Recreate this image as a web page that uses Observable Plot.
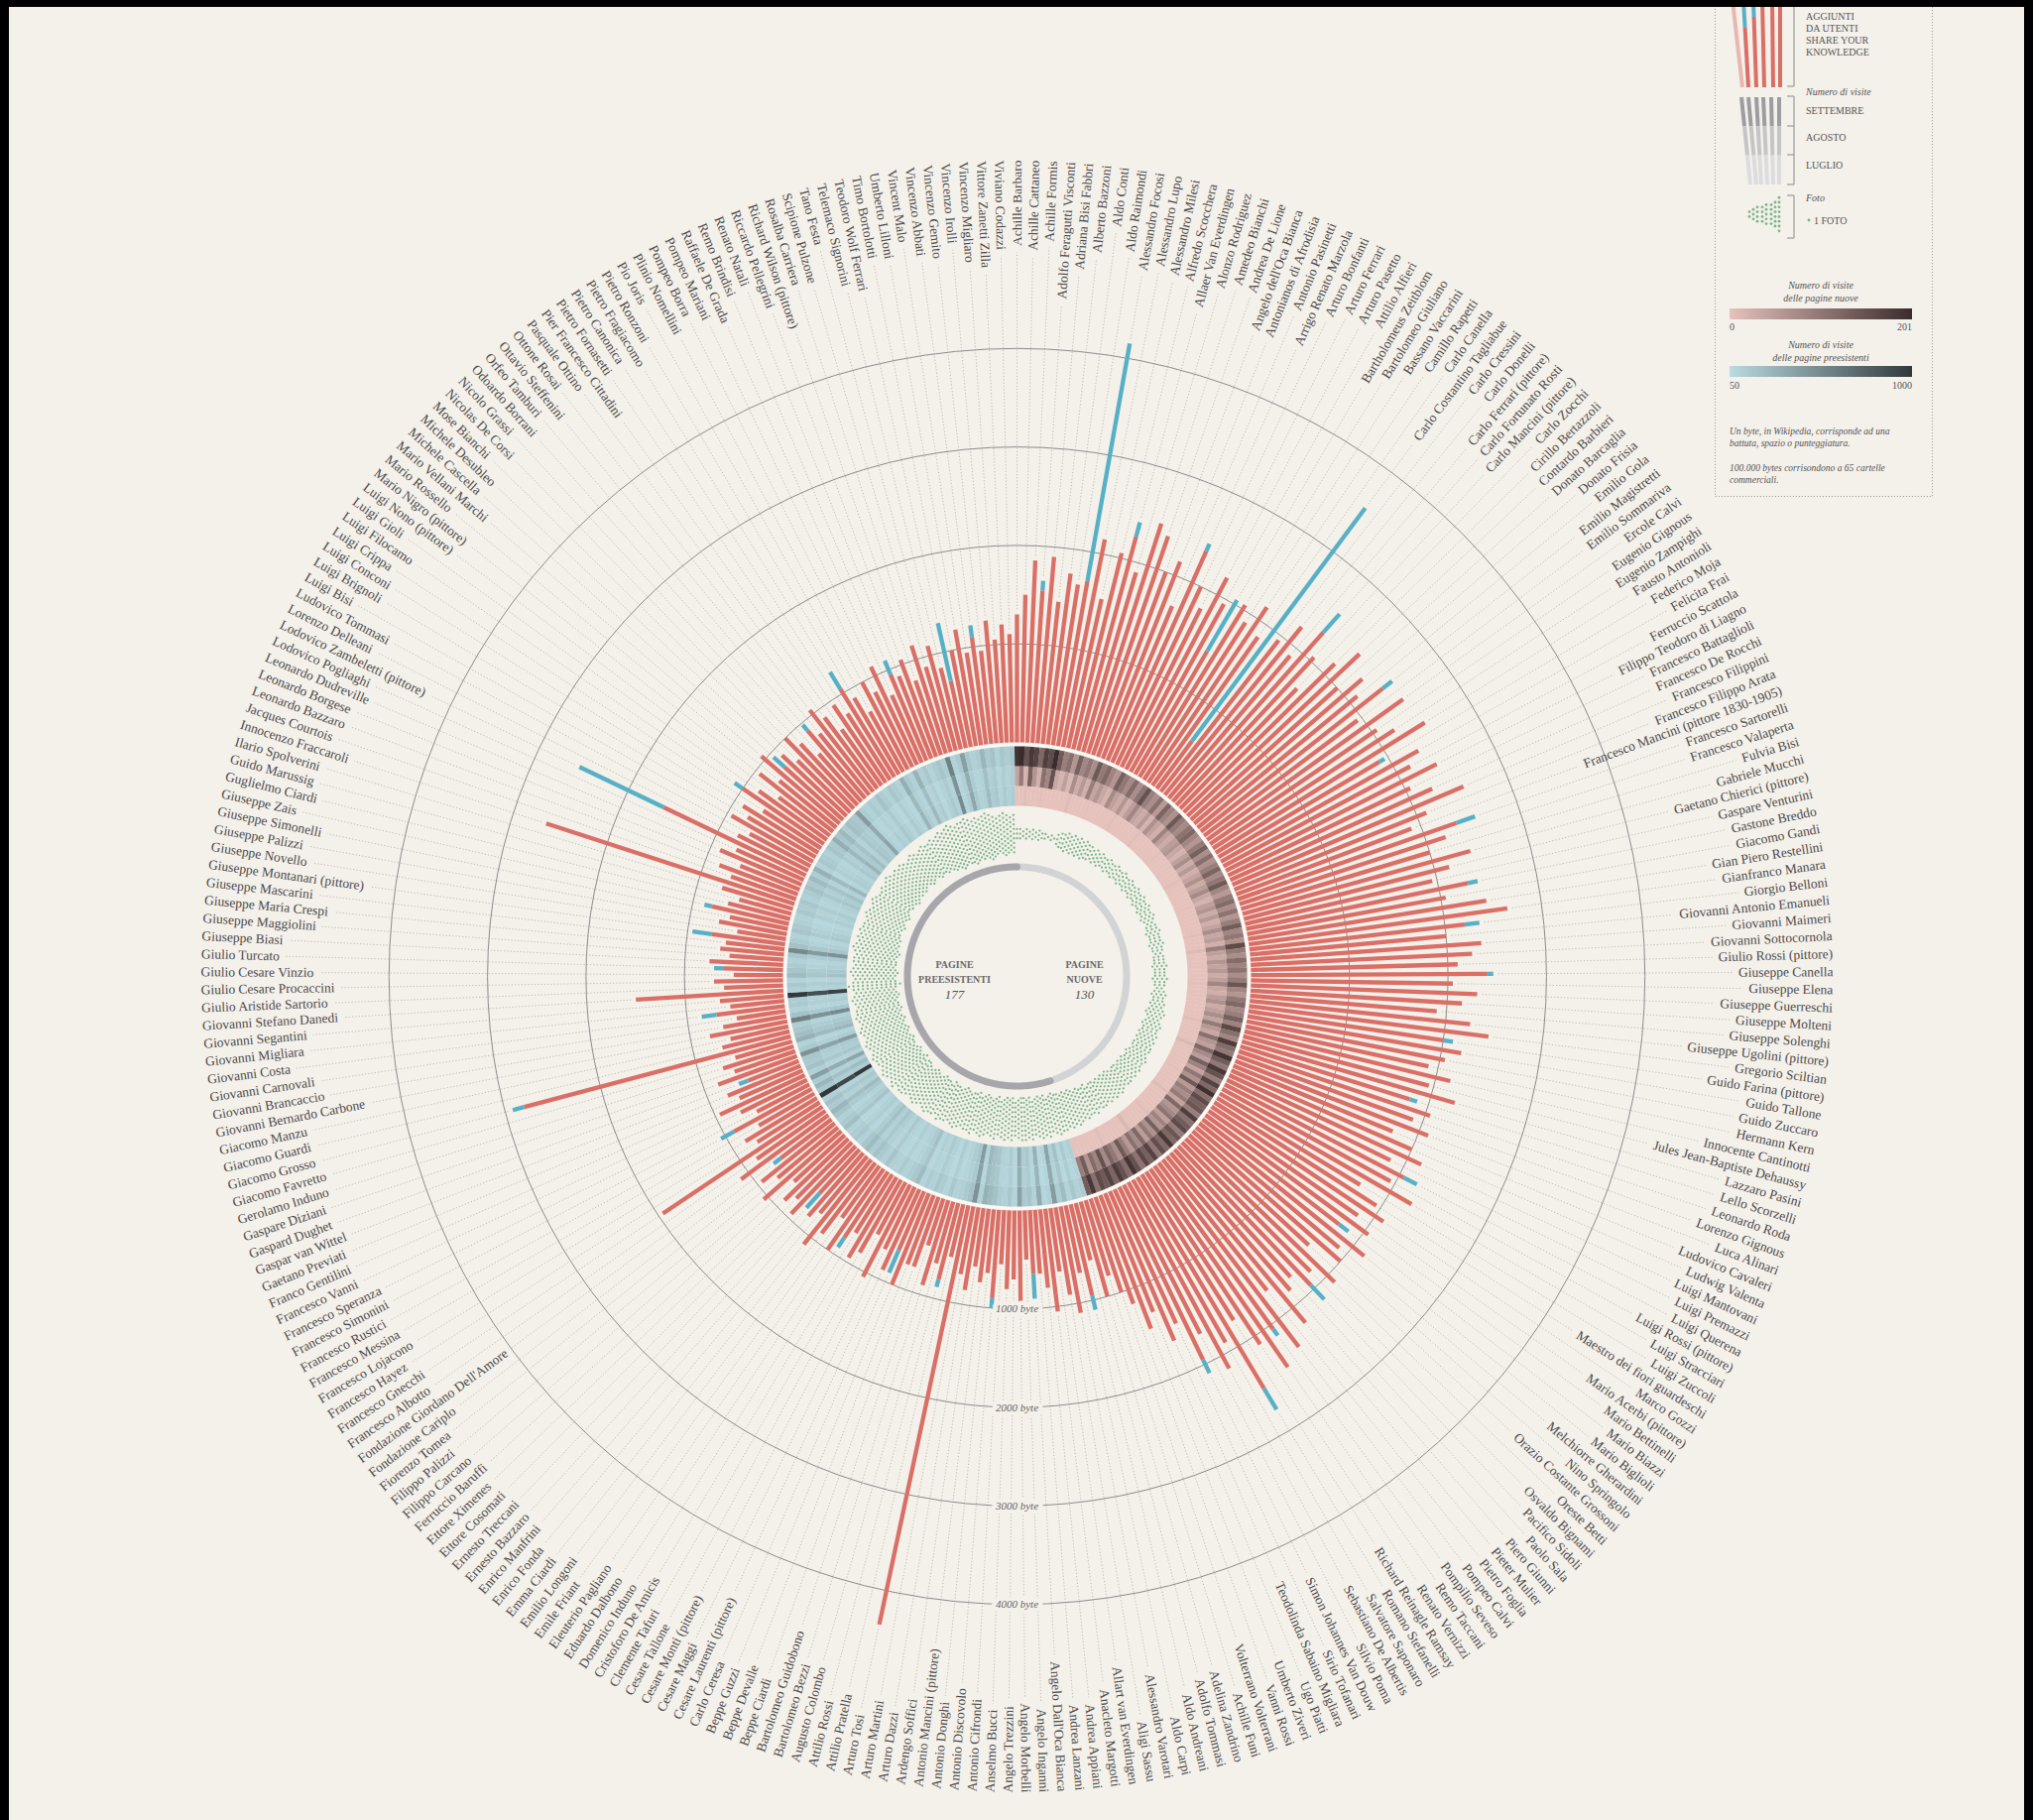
<!DOCTYPE html>
<html><head><meta charset="utf-8">
<script src="https://cdn.jsdelivr.net/npm/d3@7"></script>
<script src="https://cdn.jsdelivr.net/npm/@observablehq/plot@0.6"></script>
<style>
html,body{margin:0;padding:0;background:#f4f0ea;overflow:hidden;width:2050px;height:1835px;}
#chart{position:absolute;left:0;top:0;}
#legend{position:absolute;left:0;top:0;}
.bk{position:absolute;background:#000;z-index:10;}
</style></head>
<body>
<div id="chart"></div>
<svg id="legend" width="2050" height="520" font-family="'Liberation Serif', serif"></svg>
<div class="bk" style="left:0;top:0;width:2050px;height:7px"></div>
<div class="bk" style="left:0;top:0;width:9px;height:1835px"></div>
<div class="bk" style="left:2041px;top:0;width:9px;height:1835px"></div>
<script>
// ---------- DATA ----------
const newNames = ["Achille Barbaro","Achille Cattaneo","Achille Formis","Adolfo Feragutti Visconti","Adriana Bisi Fabbri","Alberto Bazzoni","Aldo Conti","Aldo Raimondi","Alessandro Focosi","Alessandro Lupo",
"Alessandro Milesi","Alfredo Scocchera","Allaer Van Everdingen","Alonzo Rodriguez","Amedeo Bianchi","Andrea De Lione","Angelo dell'Oca Bianca","Antonianos di Afrodisia","Antonio Pasinetti","Arrigo Renato Marzola",
"Arturo Bonfanti","Arturo Ferrari","Arturo Pasetto","Attilio Alfieri","Bartholomeus Zeitblom","Bartolomeo Giuliano","Bassano Vaccarini","Camillo Rapetti","Carlo Canella","Carlo Costantino Tagliabue",
"Carlo Cressini","Carlo Donelli","Carlo Ferrari (pittore)","Carlo Fortunato Rosti","Carlo Mancini (pittore)","Carlo Zocchi","Cirillo Bertazzoli","Contardo Barbieri","Donato Barcaglia","Donato Frisia",
"Emilio Gola","Emilio Magistretti","Emilio Sommariva","Ercole Calvi","Eugenio Gignous","Eugenio Zampighi","Fausto Antonioli","Federico Moja","Felicita Frai","Ferruccio Scattola",
"Filippo Teodoro di Liagno","Francesco Battaglioli","Francesco De Rocchi","Francesco Filippini","Francesco Filippo Arata","Francesco Mancini (pittore 1830-1905)","Francesco Sartorelli","Francesco Valaperta","Fulvia Bisi","Gabriele Mucchi",
"Gaetano Chierici (pittore)","Gaspare Venturini","Gastone Breddo","Giacomo Gandi","Gian Piero Restellini","Gianfranco Manara","Giorgio Belloni","Giovanni Antonio Emanueli","Giovanni Maimeri","Giovanni Sottocornola",
"Giulio Rossi (pittore)","Giuseppe Canella","Giuseppe Elena","Giuseppe Guerreschi","Giuseppe Molteni","Giuseppe Solenghi","Giuseppe Ugolini (pittore)","Gregorio Sciltian","Guido Farina (pittore)","Guido Tallone",
"Guido Zuccaro","Hermann Kern","Innocente Cantinotti","Jules Jean-Baptiste Dehaussy","Lazzaro Pasini","Lello Scorzelli","Leonardo Roda","Lorenzo Gignous","Luca Alinari","Ludovico Cavaleri",
"Ludwig Valenta","Luigi Mantovani","Luigi Premazzi","Luigi Querena","Luigi Rossi (pittore)","Luigi Stracciari","Luigi Zuccoli","Maestro dei fiori guardeschi","Marco Gozzi","Mario Acerbi (pittore)",
"Mario Bettinelli","Mario Biazzi","Mario Biglioli","Melchiorre Gherardini","Nino Springolo","Orazio Costante Grossoni","Oreste Betti","Osvaldo Bignami","Pacifico Sidoli","Paolo Sala",
"Piero Giunni","Pieter Mulier","Pietro Foglia","Pompeo Calvi","Pompilio Seveso","Remo Taccani","Renato Vernizzi","Richard Reinagle Ramsay","Romano Stefanelli","Salvatore Saponaro",
"Sebastiano De Albertis","Silvio Poma","Simon Johannes Van Douw","Sirio Tofanari","Teodolinda Sabaino Migliara","Ugo Piatti","Umberto Ziveri","Vanni Rossi","Volterrano Volterrani"];

const oldNames = ["Achille Funi","Adelina Zandrino","Adolfo Tommasi","Aldo Andreani","Aldo Carpi","Alessandro Varotari","Aligi Sassu","Allart van Everdingen","Anacleto Margotti","Andrea Appiani",
"Andrea Lanzani","Angelo Dall'Oca Bianca","Angelo Inganni","Angelo Morbelli","Angelo Trezzini","Anselmo Bucci","Antonio Cifrondi","Antonio Discovolo","Antonio Donghi","Antonio Mancini (pittore)",
"Ardengo Soffici","Arturo Dazzi","Arturo Martini","Arturo Tosi","Attilio Pratella","Attilio Rossi","Augusto Colombo","Bartolomeo Bezzi","Bartolomeo Guidobono","Beppe Ciardi",
"Beppe Devalle","Beppe Guzzi","Carlo Ceresa","Cesare Laurenti (pittore)","Cesare Maggi","Cesare Monti (pittore)","Cesare Tallone","Clemente Tafuri","Cristoforo De Amicis","Domenico Induno",
"Eduardo Dalbono","Eleuterio Pagliano","Emile Friant","Emilio Longoni","Emma Ciardi","Enrico Fonda","Enrico Manfrini","Ernesto Bazzaro","Ernesto Treccani","Ettore Cosomati",
"Ettore Ximenes","Ferruccio Baruffi","Filippo Carcano","Filippo Palizzi","Fiorenzo Tomea","Fondazione Cariplo","Fondazione Giordano Dell'Amore","Francesco Albotto","Francesco Gnecchi","Francesco Hayez",
"Francesco Lojacono","Francesco Messina","Francesco Rustici","Francesco Simonini","Francesco Speranza","Francesco Vanni","Franco Gentilini","Gaetano Previati","Gaspar van Wittel","Gaspard Dughet",
"Gaspare Diziani","Gerolamo Induno","Giacomo Favretto","Giacomo Grosso","Giacomo Guardi","Giacomo Manzu","Giovanni Bernardo Carbone","Giovanni Brancaccio","Giovanni Carnovali","Giovanni Costa",
"Giovanni Migliara","Giovanni Segantini","Giovanni Stefano Danedi","Giulio Aristide Sartorio","Giulio Cesare Procaccini","Giulio Cesare Vinzio","Giulio Turcato","Giuseppe Biasi","Giuseppe Maggiolini","Giuseppe Maria Crespi",
"Giuseppe Mascarini","Giuseppe Montanari (pittore)","Giuseppe Novello","Giuseppe Palizzi","Giuseppe Simonelli","Giuseppe Zais","Guglielmo Ciardi","Guido Marussig","Ilario Spolverini","Innocenzo Fraccaroli",
"Jacques Courtois","Leonardo Bazzaro","Leonardo Borgese","Leonardo Dudreville","Lodovico Pogliaghi","Lodovico Zambeletti (pittore)","Lorenzo Delleani","Ludovico Tommasi","Luigi Bisi","Luigi Brignoli",
"Luigi Conconi","Luigi Crippa","Luigi Filocamo","Luigi Gioli","Luigi Nono (pittore)","Mario Nigro (pittore)","Mario Rossello","Mario Vellani Marchi","Michele Cascella","Michele Desubleo",
"Mose Bianchi","Nicolas De Corsi","Nicolo Grassi","Odoardo Borrani","Orfeo Tamburi","Ottavio Steffenini","Ottone Rosai","Pasquale Ottino","Pier Francesco Cittadini","Pietro Fornasetti",
"Pietro Canonica","Pietro Fragiacomo","Pietro Ronzoni","Pio Joris","Plinio Nomellini","Pompeo Borra","Pompeo Mariani","Raffaele De Grada","Remo Brindisi","Renato Natali",
"Riccardo Pellegrini","Richard Wilson (pittore)","Rosalba Carriera","Scipione Pulzone","Tano Festa","Telemaco Signorini","Teodoro Wolf Ferrari","Timo Bortolotti","Umberto Lilloni","Vincent Malo",
"Vincenzo Abbati","Vincenzo Gemito","Vincenzo Irolli","Vincenzo Migliaro","Vittore Zanetti Zilla","Viviano Codazzi"];

// bytes (red = existing text, blue = added by users)
const newRed = [1300,1500,1850,1550,1900,1450,1750,1650,1700,2150,
1550,2050,2250,1900,2450,2350,2000,2150,1700,2350,
2000,1800,2200,1950,1450,2050,1900,2150,1850,600,
1950,2200,1900,2300,2050,1700,2150,2400,2000,2250,
2100,2350,1950,2450,2050,2200,2500,1900,2300,2150,
2400,2050,2250,2550,2100,1900,2350,2200,2000,2400,
2150,1950,2300,2050,2450,2650,2200,2000,2350,2250,
2100,2400,2050,2300,2150,1900,2250,2450,2000,2200,
2050,1900,2150,1950,2250,1800,2050,1900,2100,1750,
2000,2150,1850,2050,1950,2250,1700,1950,2100,1850,
2050,1750,2150,1900,2000,1650,2100,1850,1950,1750,
1850,2200,1700,2350,2050,2450,2100,1750,2500,1900,
2150,1700,1950,1500,1650,1300,1450,1150,1000];
const newBlue = [0,0,0,100,0,0,0,0,2450,0,
0,0,150,0,0,0,0,0,0,80,
0,0,0,0,600,0,0,0,0,2950,
0,0,0,250,0,0,0,0,0,0,
0,120,0,0,0,0,0,60,0,0,
0,0,0,0,0,0,200,0,0,0,
0,0,100,0,0,0,150,0,0,0,
0,60,0,0,0,0,0,0,100,0,
0,0,0,0,0,80,0,0,0,0,
0,0,0,150,0,0,0,0,0,0,
0,120,0,0,0,0,0,0,200,0,
0,0,0,0,80,0,0,0,250,0,
0,0,150,0,0,0,0,0,0];
const oldRed = [800,1000,600,950,700,1100,900,650,1050,800,
650,650,500,950,700,800,550,900,650,750,
600,850,700,4350,550,800,650,900,500,750,
750,1000,650,900,700,1050,600,850,950,700,
800,1000,650,900,1100,750,850,600,950,800,
900,700,1050,800,950,650,1100,850,1950,750,
850,650,900,600,750,950,700,800,550,850,
650,750,600,2800,700,600,800,650,500,700,
550,650,1500,600,700,500,600,750,550,650,
600,750,500,700,600,800,650,550,750,2650,
700,850,650,900,750,1600,800,700,950,800,
900,700,1000,850,650,950,750,1050,800,900,
750,1000,850,650,900,800,1050,900,700,950,
800,1050,900,700,1000,850,1100,750,950,900,
1050,800,1150,900,1100,850,700,1000,1200,950,
1100,950,1250,1050,1200,1100];
const oldBlue = [0,0,0,150,0,0,0,0,0,0,
0,250,0,0,0,0,0,100,0,0,
0,0,0,0,0,80,0,0,0,0,
0,0,250,0,0,0,0,0,0,0,
120,0,0,0,0,0,0,200,0,0,
0,0,0,0,0,90,0,0,0,0,
0,0,150,0,0,0,0,0,100,0,
0,0,0,120,0,0,0,0,0,150,
0,0,0,0,0,0,100,0,0,0,
0,200,0,0,0,80,0,0,0,0,
0,0,0,0,0,950,0,0,0,0,
0,0,100,0,0,0,0,0,150,0,
0,0,0,0,80,0,0,0,0,0,
0,200,0,0,0,0,0,0,150,0,
0,0,0,0,0,0,600,0,0,0,
120,0,0,0,0,0];

// monthly visits
const newJul = [0,0,5,0,0,0,3,0,0,0,0,0,0,8,0,0,0,0,2,0,0,0,0,0,0,4,0,0,0,0,0,0,6,0,0,0,0,0,0,3,0,0,0,0,0,0,0,5,0,0,0,0,0,0,2,0,0,0,0,0,0,4,0,0,0,10,0,0,0,0,0,0,0,3,0,0,0,0,0,0,0,0,5,0,0,0,0,0,12,0,0,0,0,0,0,3,0,0,0,0,0,8,0,0,0,0,0,0,4,0,0,0,0,0,15,0,0,0,0,0,0,6,0,0,0,0,0,0,0];
const newAug = [40,95,20,130,60,25,110,80,150,35,20,45,15,70,30,55,25,90,40,60,35,20,75,45,30,60,25,50,80,40,30,55,20,65,40,25,85,45,30,50,60,35,20,45,70,30,55,25,40,65,30,50,75,35,20,45,60,30,55,25,40,70,35,50,25,90,45,30,60,40,55,30,45,80,35,25,50,65,30,45,70,40,95,55,35,110,60,45,120,75,50,130,85,40,100,65,140,55,90,70,95,40,120,60,75,105,45,85,60,130,65,100,50,120,75,110,55,90,140,70,100,125,75,150,85,115,60,135,90];
const newSep = [190,201,150,185,170,120,175,160,201,140,90,110,60,130,80,100,70,140,95,120,85,60,130,100,75,115,70,105,150,90,70,110,55,125,85,65,140,95,75,105,120,80,60,95,130,70,110,65,90,125,75,100,140,80,55,95,115,70,105,60,90,135,80,100,65,160,95,70,115,85,105,70,95,145,80,60,100,120,75,90,130,85,165,110,80,180,115,95,190,135,100,185,150,90,170,120,195,110,160,130,145,90,175,110,135,160,95,145,120,185,120,155,100,170,130,165,105,150,190,115,150,180,125,170,140,160,110,185,135];
const oldJul = [120,90,150,80,200,110,380,95,70,300,85,160,130,350,75,140,95,110,180,210,260,90,420,170,130,100,85,140,75,110,150,95,120,80,200,140,110,90,130,85,100,160,95,130,180,120,210,150,90,140,110,85,190,130,95,160,240,120,170,100,1000,140,230,120,360,95,180,130,150,420,130,90,260,190,150,110,520,170,90,130,110,950,100,140,90,200,160,120,95,150,480,180,120,90,160,130,100,85,140,110,150,95,120,180,130,210,110,260,90,140,120,95,160,130,280,150,220,110,190,160,140,380,110,90,130,100,170,120,85,150,110,90,280,130,95,250,100,140,80,120,160,110,520,90,130,360,150,100,120,240,130,170,95,150,110,140];
const oldAug = [100,80,130,70,180,95,340,85,60,270,75,140,115,320,65,125,85,95,160,190,230,80,390,150,115,90,75,125,65,95,135,85,105,70,180,125,95,80,115,75,90,145,85,115,160,105,190,135,80,125,95,75,170,115,85,145,215,105,150,90,900,125,205,105,320,85,160,115,135,380,115,80,235,170,135,95,470,150,80,115,95,870,90,125,80,180,145,105,85,135,430,160,105,80,145,115,90,75,125,95,135,85,105,160,115,190,95,235,80,125,105,85,145,115,250,135,195,95,170,145,125,340,95,80,115,90,150,105,75,135,95,80,250,115,85,225,90,125,70,105,145,95,470,80,115,320,135,90,105,215,115,150,85,135,95,125];
const oldSep = [140,110,170,95,230,130,420,110,85,340,100,185,150,390,90,160,110,130,205,240,290,105,470,195,150,115,100,160,90,130,170,110,140,95,230,160,130,105,150,100,115,185,110,150,205,140,240,170,105,160,130,100,215,150,110,185,270,140,195,115,1000,160,260,140,400,110,205,150,170,470,150,105,295,215,170,130,580,195,105,150,130,1000,115,160,105,230,185,140,110,170,530,205,140,105,185,150,115,100,160,130,170,110,140,205,150,240,130,290,105,160,140,110,185,150,310,170,250,130,215,185,160,420,130,105,150,115,195,140,100,170,130,105,310,150,110,285,115,160,95,140,185,130,580,105,150,400,170,115,140,270,150,195,110,170,130,160];

// number of photos per page
const newPhotos = [3,3,2,3,2,3,2,3,2,2,1,2,1,3,4,4,5,4,5,4,5,4,5,4,4,3,4,3,4,3,3,4,3,3,4,3,3,4,3,3,4,3,3,4,3,3,4,3,3,4,3,3,4,3,2,3,3,4,3,3,3,4,3,3,2,3,3,3,4,3,3,3,4,3,3,2,3,4,3,3,4,3,4,5,4,3,4,5,4,4,5,4,5,4,5,5,4,5,6,5,5,6,5,6,5,6,6,5,6,7,6,7,6,7,6,7,7,6,8,7,7,8,7,8,9,8,9,8,9];
const oldPhotos = [9,10,9,8,10,9,10,9,8,10,9,10,10,9,8,10,9,10,9,8,10,9,8,9,10,9,8,10,9,9,8,9,10,9,8,9,9,10,8,9,9,10,9,8,9,10,9,8,9,10,10,9,11,10,9,10,11,10,9,10,10,11,10,9,10,11,10,9,10,11,10,9,10,11,10,10,9,10,11,10,9,10,12,10,9,10,11,10,9,10,10,9,10,11,10,9,10,9,10,9,9,8,9,10,9,8,9,10,9,8,8,9,8,9,10,9,8,9,8,9,8,7,8,9,8,7,8,9,8,8,9,8,9,10,9,10,11,10,9,10,10,11,10,9,10,9,10,11,10,9,8,9,10,9,8,9];

const ringValues = [1000, 2000, 3000, 4000];
const pageCounts = {nuove: 130, preesistenti: 177};

// ---------- LAYOUT ----------
const W = 2050, H = 1835, CX = 1025, CY = 984;
const RL = 823;                 // outer end of the labels
const BAND = [172, 192, 212, 232]; // July, August, September rings
const rB = d3.scaleLinear().domain([0, 1000]).range([236, 335.3]);
const px = (r, t) => r * Math.sin(t), py = (r, t) => -r * Math.cos(t);

const names = newNames.concat(oldNames);
const N = names.length, nNew = newNames.length, step = 2 * Math.PI / N;
const reds = newRed.concat(oldRed), blues = newBlue.concat(oldBlue);
const juls = newJul.concat(oldJul), augs = newAug.concat(oldAug), seps = newSep.concat(oldSep);
const photos = newPhotos.concat(oldPhotos);
const pages = names.map((name, i) => ({name, i, theta: i * step, isNew: i < nNew,
  red: reds[i], blue: blues[i], vis: [juls[i], augs[i], seps[i]], photos: photos[i]}));

const colNew = d3.scaleLinear().domain([0, 201]).range(["#e6c2bd", "#3b2c2c"]).clamp(true);
const colOld = d3.scaleLinear().domain([50, 1000]).range(["#b9dbe1", "#32393c"]).clamp(true);

const ctx = document.createElement("canvas").getContext("2d");
ctx.font = "13.5px 'Liberation Serif'";
const tw = s => ctx.measureText(s).width;

const band = pages.flatMap(d => [0, 1, 2].map(m => ({theta: d.theta, r1: BAND[m], r2: BAND[m + 1],
  color: d.isNew ? colNew(d.vis[m]) : colOld(d.vis[m]), w: 2 * Math.PI * (BAND[m] + BAND[m + 1]) / 2 / N + 0.25})));
const dots = pages.flatMap(d => d3.range(d.photos).map(k => ({theta: d.theta, r: 144 + (k - (d.photos - 1) / 2) * 4.7})));
const arcPts = (a0, a1, g) => d3.range(0, 181).map(k => ({g, t: a0 + (a1 - a0) * k / 180}));
const split = (nNew - 0.5) * step;
const arcNew = arcPts(0, split, "n"), arcOld = arcPts(split, 2 * Math.PI, "o");

const right = pages.filter(d => d.theta < Math.PI), left = pages.filter(d => d.theta >= Math.PI);
const deg = t => t * 180 / Math.PI;
const centerText = [
  {x: -63, y: -12, t: "PAGINE", it: false}, {x: -63, y: 3, t: "PREESISTENTI", it: false},
  {x: -63, y: 18, t: String(pageCounts.preesistenti), it: true},
  {x: 68, y: -12, t: "PAGINE", it: false}, {x: 68, y: 3, t: "NUOVE", it: false},
  {x: 68, y: 18, t: String(pageCounts.nuove), it: true}];

const chart = Plot.plot({
  width: W, height: H, margin: 0,
  x: {domain: [-CX, W - CX], range: [0, W], axis: null},
  y: {domain: [-CY, H - CY], range: [0, H], axis: null},
  r: {type: "identity"},
  style: {background: "#f4f0ea", fontFamily: "'Liberation Serif', serif"},
  marks: [
    // dotted guides
    Plot.link(pages, {x1: d => px(rB(d.red + d.blue) + 5, d.theta), y1: d => py(rB(d.red + d.blue) + 5, d.theta),
      x2: d => px(RL - tw(d.name) - 6, d.theta), y2: d => py(RL - tw(d.name) - 6, d.theta),
      stroke: "#c2beb8", strokeWidth: 1, strokeDasharray: "1.3,2"}),
    // byte rings
    Plot.dot(ringValues, {x: () => 0, y: () => 0, r: d => rB(d), fill: "none", stroke: "#8d8d8d", strokeWidth: 1}),
    // bars
    Plot.link(pages, {x1: d => px(rB(0), d.theta), y1: d => py(rB(0), d.theta),
      x2: d => px(rB(d.red), d.theta), y2: d => py(rB(d.red), d.theta), stroke: "#d96f66", strokeWidth: 4.3}),
    Plot.link(pages.filter(d => d.blue > 0), {x1: d => px(rB(d.red), d.theta), y1: d => py(rB(d.red), d.theta),
      x2: d => px(rB(d.red + d.blue), d.theta), y2: d => py(rB(d.red + d.blue), d.theta), stroke: "#57b0c5", strokeWidth: 4.3}),
    Plot.text(ringValues, {x: () => 0, y: d => rB(d), text: d => `${d} byte`, fontSize: 11, fontStyle: "italic",
      fill: "#666", stroke: "#f4f0ea", strokeWidth: 9}),
    // visits band
    Plot.link(band, {x1: d => px(d.r1, d.theta), y1: d => py(d.r1, d.theta), x2: d => px(d.r2, d.theta), y2: d => py(d.r2, d.theta),
      stroke: d => d.color, strokeWidth: d => d.w}),
    Plot.dot([BAND[3] + 2], {x: () => 0, y: () => 0, r: d => d, fill: "none", stroke: "#fbf9f6", strokeWidth: 2.5}),
    // photos
    Plot.dot(dots, {x: d => px(d.r, d.theta), y: d => py(d.r, d.theta), r: 1.15, fill: "#79b68a"}),
    // centre ring
    Plot.line(arcNew, {x: d => px(110.5, d.t), y: d => py(110.5, d.t), stroke: "#d2d3d5", strokeWidth: 7}),
    Plot.line(arcOld, {x: d => px(110.5, d.t), y: d => py(110.5, d.t), stroke: "#a7a7ab", strokeWidth: 7}),
    Plot.text(centerText.filter(d => !d.it), {x: "x", y: "y", text: "t", fontSize: 10, fontWeight: "bold", fill: "#6a6a6a"}),
    Plot.text(centerText.filter(d => d.it), {x: "x", y: "y", text: "t", fontSize: 13, fontStyle: "italic", fill: "#555"}),
    // labels
    Plot.text(right, {x: d => px(RL, d.theta), y: d => py(RL, d.theta), text: "name", rotate: d => deg(d.theta) - 90,
      textAnchor: "end", fontSize: 13.5, fill: "#4b4b4b"}),
    Plot.text(left, {x: d => px(RL, d.theta), y: d => py(RL, d.theta), text: "name", rotate: d => deg(d.theta) - 270,
      textAnchor: "start", fontSize: 13.5, fill: "#4b4b4b"})
  ]
});
document.getElementById("chart").appendChild(chart);

// ---------- LEGEND ----------
const L = d3.select("#legend");
const defs = L.append("defs");
const g1 = defs.append("linearGradient").attr("id", "gn");
g1.append("stop").attr("offset", "0").attr("stop-color", colNew(0));
g1.append("stop").attr("offset", "1").attr("stop-color", colNew(201));
const g2 = defs.append("linearGradient").attr("id", "go");
g2.append("stop").attr("offset", "0").attr("stop-color", colOld(50));
g2.append("stop").attr("offset", "1").attr("stop-color", colOld(1000));
L.append("rect").attr("x", 1729.5).attr("y", -5).attr("width", 219).attr("height", 505.5)
  .attr("fill", "none").attr("stroke", "#aaa6a0").attr("stroke-dasharray", "1.2,1.8");
const fanTop = [1747, 1758, 1768, 1777, 1787, 1795], fanBot = [1757, 1763, 1771, 1779, 1788, 1795];
const blueTop = [0, 28, 17, 0, 0, 0];
fanTop.forEach((xt, k) => {
  const xb = fanBot[k], lerp = f => xt + (xb - xt) * f;
  if (k === 0) { L.append("line").attr("x1", xt).attr("y1", 0).attr("x2", xb).attr("y2", 88).attr("stroke", "#e8b7b2").attr("stroke-width", 4); return; }
  const yb = blueTop[k];
  if (yb) L.append("line").attr("x1", xt).attr("y1", 0).attr("x2", lerp(yb / 88)).attr("y2", yb).attr("stroke", "#57b0c5").attr("stroke-width", 4);
  L.append("line").attr("x1", lerp(yb / 88)).attr("y1", yb).attr("x2", xb).attr("y2", 88).attr("stroke", "#d96f66").attr("stroke-width", 4);
});
const gTop = [1756, 1763, 1771, 1778, 1786, 1794], gBot = [1765, 1771, 1776, 1782, 1788, 1794];
const gCols = ["#9d9da1", "#c5c5c8", "#dcdcdf"];
gTop.forEach((xt, k) => {
  const xb = gBot[k];
  [0, 1, 2].forEach(s => {
    const f0 = s / 3, f1 = (s + 1) / 3;
    L.append("line").attr("x1", xt + (xb - xt) * f0).attr("y1", 98 + 88 * f0).attr("x2", xt + (xb - xt) * f1).attr("y2", 98 + 88 * f1)
      .attr("stroke", gCols[s]).attr("stroke-width", 4);
  });
});
const dotCols = [[1764, 2], [1768, 3], [1772, 4], [1777, 4], [1781, 5], [1786, 5], [1790, 6], [1794, 8]];
dotCols.forEach(([x, n]) => d3.range(n).forEach(k => L.append("circle").attr("cx", x).attr("cy", 216 + (k - (n - 1) / 2) * 4.8).attr("r", 1.4).attr("fill", "#79b68a")));
L.append("circle").attr("cx", 1824).attr("cy", 222).attr("r", 1.4).attr("fill", "#79b68a");
const br = "#8a8a8a";
L.append("path").attr("d", "M1802,-2H1809V87H1802").attr("fill", "none").attr("stroke", br);
L.append("path").attr("d", "M1802,97H1809V186H1802M1802,127H1809M1802,156H1809").attr("fill", "none").attr("stroke", br);
L.append("path").attr("d", "M1802,197H1809V240H1802").attr("fill", "none").attr("stroke", br);
const txt = (x, y, s, o = {}) => L.append("text").attr("x", x).attr("y", y).attr("font-size", o.size || 10)
  .attr("font-style", o.it ? "italic" : null).attr("text-anchor", o.anchor || "start").attr("fill", "#555").text(s);
txt(1821, 20, "AGGIUNTI"); txt(1821, 32, "DA UTENTI"); txt(1821, 44, "SHARE YOUR"); txt(1821, 56, "KNOWLEDGE");
txt(1821, 96, "Numero di visite", {it: true});
txt(1821, 115, "SETTEMBRE"); txt(1821, 142, "AGOSTO"); txt(1821, 170, "LUGLIO");
txt(1821, 203, "Foto", {it: true}); txt(1829, 226, "1 FOTO");
txt(1836, 291, "Numero di visite", {it: true, anchor: "middle"}); txt(1836, 304, "delle pagine nuove", {it: true, anchor: "middle"});
L.append("rect").attr("x", 1744).attr("y", 311).attr("width", 184).attr("height", 11).attr("fill", "url(#gn)");
txt(1744, 333, "0"); txt(1928, 333, "201", {anchor: "end"});
txt(1836, 351, "Numero di visite", {it: true, anchor: "middle"}); txt(1836, 364, "delle pagine preesistenti", {it: true, anchor: "middle"});
L.append("rect").attr("x", 1744).attr("y", 369).attr("width", 184).attr("height", 11).attr("fill", "url(#go)");
txt(1744, 392, "50"); txt(1928, 392, "1000", {anchor: "end"});
txt(1744, 438, "Un byte, in Wikipedia, corrisponde ad una", {it: true, size: 9.5});
txt(1744, 450, "battuta, spazio o punteggiatura.", {it: true, size: 9.5});
txt(1744, 475, "100.000 bytes corrisondono a 65 cartelle", {it: true, size: 9.5});
txt(1744, 487, "commerciali.", {it: true, size: 9.5});
</script>
</body></html>
